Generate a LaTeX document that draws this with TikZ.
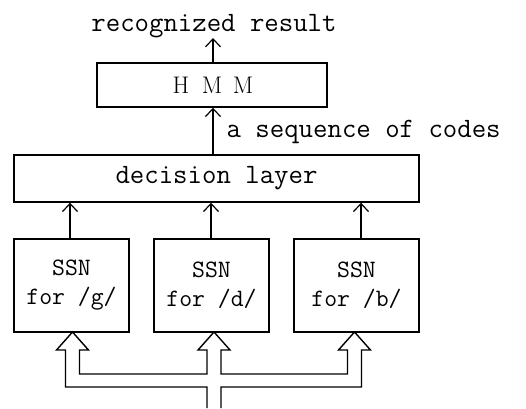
\documentclass[tikz,border=0pt]{standalone}
\usetikzlibrary{arrows.meta}
\begin{document}
\begin{tikzpicture}[x=1pt,y=-1pt,line width=1.3pt,
  box/.style={draw,rectangle,inner sep=0pt,line width=1.4pt},
  bigtt/.style={font=\ttfamily\fontsize{28}{30}\selectfont},
  smalltt/.style={font=\ttfamily\fontsize{25}{29}\selectfont,align=center},
  serif/.style={font=\rmfamily\fontsize{24}{26}\selectfont},
  arr/.style={-{Straight Barb[length=8pt,width=15pt,line width=1.2pt]},line width=1.3pt}]
\useasboundingbox (0,0) rectangle (526,408);
% nodes
\node[bigtt,anchor=base] (res) at (214,31) {recognized result};
\node[box,minimum width=230pt,minimum height=44pt,serif] (hmm) at (212,85) {\makebox[31pt]{H}\makebox[31pt]{M}\makebox[31pt]{M}};
\node[bigtt,anchor=base west,inner sep=0pt] (codes) at (226,137) {a sequence of codes};
\node[box,minimum width=405pt,minimum height=47pt,bigtt] (dec) at (216.5,178.5) {decision layer};
\node[box,minimum width=115pt,minimum height=93pt,smalltt] (s1) at (71.5,285.5) {SSN\\for /g/};
\node[box,minimum width=115pt,minimum height=93pt,smalltt] (s2) at (211.5,285.5) {SSN\\for /d/};
\node[box,minimum width=125pt,minimum height=93pt,smalltt] (s3) at (356.5,285.5) {SSN\\for /b/};
% helper x positions
\coordinate (xa) at (213,0);
\coordinate (x1) at (70,0);
\coordinate (x2) at (211,0);
\coordinate (x3) at (361,0);
\coordinate (tipres) at (213,38);
% connectors
\draw[arr] (hmm.north -| xa) -- (tipres);
\draw[arr] (dec.north -| xa) -- (hmm.south -| xa);
\draw[arr] (s1.north -| x1) -- (dec.south -| x1);
\draw[arr] (s2.north -| x2) -- (dec.south -| x2);
\draw[arr] (s3.north -| x3) -- (dec.south -| x3);
% hollow input bus arrow
\draw[line width=1.4pt,line join=miter]
  (207,408) -- (207,387) -- (65.5,387) -- (65.5,350) -- (56.5,350) -- (72.5,332)
  -- (88.5,350) -- (79.5,350) -- (79.5,374) -- (207,374) -- (207,350) -- (198,350)
  -- (214,332) -- (230,350) -- (221,350) -- (221,374) -- (347.5,374) -- (347.5,350)
  -- (338.5,350) -- (354.5,332) -- (370.5,350) -- (361.5,350) -- (361.5,387)
  -- (221,387) -- (221,408);
\end{tikzpicture}
\end{document}
